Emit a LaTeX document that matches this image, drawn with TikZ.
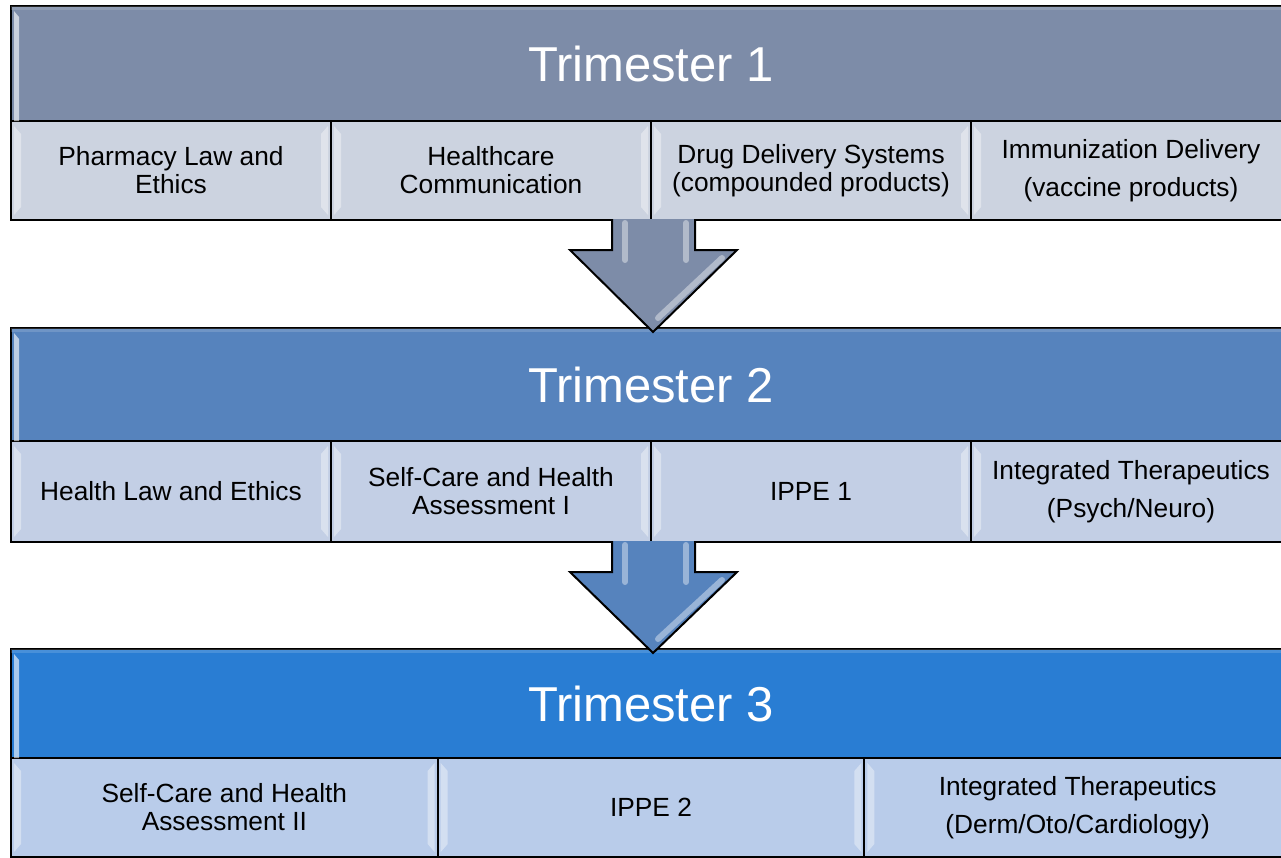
\documentclass[tikz,border=0pt]{standalone}
\usepackage{fontspec}
\setmainfont{Liberation Sans}
\usetikzlibrary{calc}
\definecolor{hdA}{HTML}{7D8CA8}
\definecolor{hdB}{HTML}{5683BD}
\definecolor{hdC}{HTML}{297DD3}
\definecolor{ceA}{HTML}{CCD3E0}
\definecolor{ceB}{HTML}{C3CFE5}
\definecolor{ceC}{HTML}{B9CCEA}
\newcommand{\cellbevel}[1]{%
  \fill[bev] ($(#1.north west)+(4,6)$) -- ($(#1.north west)+(11,14)$) -- ($(#1.south west)+(11,-14)$) -- ($(#1.south west)+(4,-6)$) -- cycle;
  \fill[bev] ($(#1.north east)+(-4,6)$) -- ($(#1.north east)+(-11,14)$) -- ($(#1.south east)+(-11,-14)$) -- ($(#1.south east)+(-4,-6)$) -- cycle;}
\newcommand{\hdrbevel}[1]{%
  \fill[bev,opacity=.6] ($(#1.north west)+(4,6)$) -- ($(#1.north west)+(9,12)$) -- ($(#1.south west)+(9,-1)$) -- ($(#1.south west)+(4,-1)$) -- cycle;
  \fill[white,opacity=.15] ($(#1.north west)+(1,1)$) rectangle ($(#1.north east)+(-1,5)$);}
\begin{document}
\begin{tikzpicture}[x=1pt,y=-1pt,
  hdr/.style={draw=black, line width=2pt, minimum width=1280pt, minimum height=115pt, inner sep=0pt, anchor=north west, text=white, font=\fontsize{49}{55}\selectfont},
  cellbox/.style={draw=black, line width=2pt, minimum width=320pt, minimum height=100pt, inner sep=0pt, anchor=north west, align=center, text=black, font=\fontsize{26.3}{28}\selectfont},
  widebox/.style={cellbox, minimum width=426.67pt},
  bev/.style={fill=white, opacity=.38},
  arrowbody/.style={draw=black, line width=2pt, line join=miter},
  glint/.style={white, opacity=.4, line width=6pt, line cap=round}]
\useasboundingbox (0,0) rectangle (1281,857);
\clip (0,0) rectangle (1281,857);
\fill[white] (0,0) rectangle (1281,857);

% ---- Trimester 1
\node[hdr, fill=hdA, minimum height=115pt] (h1) at (10,5) {Trimester 1};
\node[cellbox, fill=ceA, minimum height=99pt] (a1) at (10,120) {Pharmacy Law and\\Ethics};
\node[cellbox, fill=ceA, minimum height=99pt] (a2) at (330,120) {Healthcare\\Communication};
\node[cellbox, fill=ceA, minimum height=99pt] (a3) at (650,120) {Drug Delivery Systems\\(compounded products)};
\node[cellbox, fill=ceA, minimum height=99pt] (a4) at (970,120) {Immunization Delivery\\[10pt](vaccine products)};
\hdrbevel{h1}
\cellbevel{a1}\cellbevel{a2}\cellbevel{a3}\cellbevel{a4}

% ---- Trimester 2
\node[hdr, fill=hdB, minimum height=113pt] (h2) at (10,327) {Trimester 2};
\node[cellbox, fill=ceB, minimum height=101pt] (b1) at (10,440) {Health Law and Ethics};
\node[cellbox, fill=ceB, minimum height=101pt] (b2) at (330,440) {Self-Care and Health\\Assessment I};
\node[cellbox, fill=ceB, minimum height=101pt] (b3) at (650,440) {IPPE 1};
\node[cellbox, fill=ceB, minimum height=101pt] (b4) at (970,440) {Integrated Therapeutics\\[10pt](Psych/Neuro)};
\hdrbevel{h2}
\cellbevel{b1}\cellbevel{b2}\cellbevel{b3}\cellbevel{b4}

% ---- Trimester 3
\node[hdr, fill=hdC, minimum height=109pt] (h3) at (10,648) {Trimester 3};
\node[widebox, fill=ceC, minimum height=99pt] (c1) at (10,757) {Self-Care and Health\\Assessment II};
\node[widebox, fill=ceC, minimum height=99pt] (c2) at (436.67,757) {IPPE 2};
\node[widebox, fill=ceC, minimum height=99pt] (c3) at (863.33,757) {Integrated Therapeutics\\[10pt](Derm/Oto/Cardiology)};
\hdrbevel{h3}
\cellbevel{c1}\cellbevel{c2}\cellbevel{c3}

% ---- arrows
\foreach \top/\head/\tip/\col in {219/250/332/hdA, 541/572/653/hdB}{
  \fill[\col] (612,\top) -- (612,\head) -- (570,\head) -- (653,\tip) -- (737,\head) -- (695,\head) -- (695,\top) -- cycle;
  \draw[glint] (625,\top+4) -- (625,\head+10);
  \draw[glint] (686,\top+4) -- (686,\head+10);
  \draw[glint] (722,\head+8) -- (658,\tip-14);
  \draw[arrowbody] (612,\top) -- (612,\head) -- (570,\head) -- (653,\tip) -- (737,\head) -- (695,\head) -- (695,\top);
}
\end{tikzpicture}
\end{document}
